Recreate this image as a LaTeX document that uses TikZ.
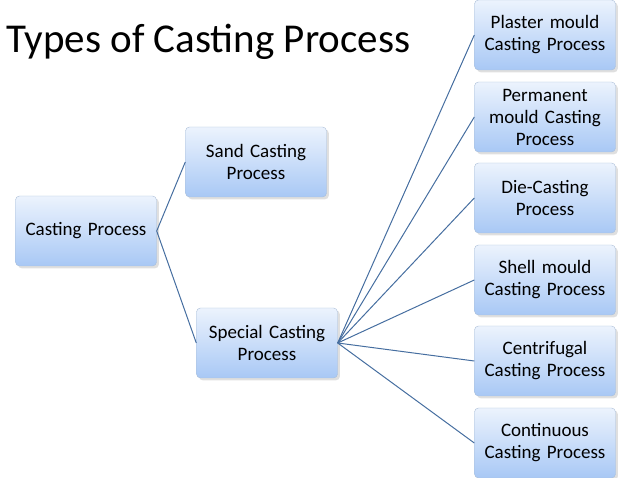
\documentclass[tikz,border=0pt]{standalone}
\usepackage{fontspec}
\setmainfont{Carlito}
\usetikzlibrary{shadows}
\definecolor{boxtop}{RGB}{236,243,253}
\definecolor{boxbot}{RGB}{168,200,245}
\definecolor{boxline}{RGB}{170,190,215}
\definecolor{linkcol}{RGB}{70,110,160}
\tikzset{
    box/.style={draw=boxline, rounded corners=4pt, top color=boxtop, bottom color=boxbot,
        minimum width=141pt, minimum height=70pt, text width=138pt, align=center,
        font=\fontsize{19}{22}\selectfont, inner sep=1pt, drop shadow={opacity=0.25}},
    link/.style={linkcol, line width=1pt}
}
\begin{document}
\begin{tikzpicture}[x=1pt, y=-1pt]
    \useasboundingbox (0,0) rectangle (638,478);

    % Title
    \node[anchor=west, font=\fontsize{41}{48}\selectfont] (title) at (3,42) {Types of Casting Process};

    % Boxes
    \node[box] (cast) at (86,231) {Casting Process};
    \node[box] (sand) at (256,162) {Sand Casting\\Process\\[2pt]};
    \node[box] (spec) at (267,343) {Special Casting\\Process\\[2pt]};
    \node[box] (plas) at (545,35) {Plaster mould\\Casting Process};
    \node[box] (perm) at (545,117) {Permanent\\mould Casting\\Process};
    \node[box] (die)  at (545,198) {Die-Casting\\Process};
    \node[box] (shel) at (545,280) {Shell mould\\Casting Process};
    \node[box] (cent) at (545,361) {Centrifugal\\Casting Process};
    \node[box] (cont) at (545,443) {Continuous\\Casting Process};

    % Links
    \draw[link] (cast.east) -- (sand.west);
    \draw[link] (cast.east) -- (spec.west);
    \foreach \n in {plas,perm,die,shel,cent,cont}{
        \draw[link] (spec.east) -- (\n.west);
    }
\end{tikzpicture}
\end{document}
